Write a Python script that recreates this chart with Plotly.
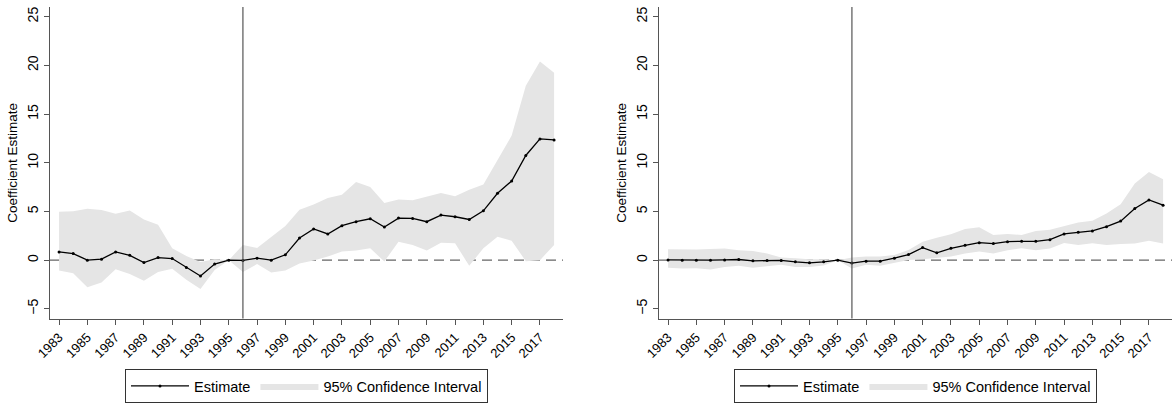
import plotly.graph_objects as go

years = list(range(1983, 2019))

# Left panel
est_left = [0.85, 0.68, 0.0, 0.1, 0.85, 0.5, -0.24, 0.27, 0.17, -0.75, -1.63, -0.4, 0.0,
            -0.03, 0.2, 0.0, 0.55, 2.28, 3.2, 2.69, 3.54, 3.95, 4.25, 3.4, 4.32, 4.29,
            3.95, 4.63, 4.46, 4.18, 5.07, 6.87, 8.13, 10.75, 12.45, 12.35]
hi_left = [4.97, 5.03, 5.27, 5.14, 4.76, 5.1, 4.18, 3.64, 1.22, 0.44, -0.2, 0.1, 0.0,
           1.56, 1.26, 2.38, 3.5, 5.17, 5.71, 6.39, 6.73, 8.03, 7.52, 5.88, 6.22, 6.16,
           6.56, 6.9, 6.56, 7.24, 7.76, 10.24, 12.79, 17.9, 20.4, 19.25]
lo_left = [-1.05, -1.33, -2.79, -2.28, -0.92, -1.43, -2.1, -1.22, -0.88, -2.0, -2.96, -1.0, 0.0,
           -1.22, -0.4, -1.26, -1.05, -0.33, -0.03, 0.37, 0.88, 0.99, 1.22, -0.14, 1.9, 1.56,
           0.99, 1.8, 1.73, -0.58, 1.22, 2.41, 2.0, -0.1, 0.0, 1.56]

# Right panel
est_right = [0.03, 0.0, 0.0, 0.0, 0.03, 0.07, -0.07, -0.03, -0.03, -0.17, -0.27, -0.17, 0.0,
             -0.3, -0.1, -0.1, 0.2, 0.58, 1.29, 0.75, 1.22, 1.53, 1.8, 1.7, 1.9, 1.94,
             1.94, 2.1, 2.69, 2.86, 3.0, 3.44, 4.01, 5.3, 6.19, 5.65]
hi_right = [1.12, 1.09, 1.09, 1.16, 1.19, 1.02, 0.95, 0.68, 0.27, 0.2, 0.1, 0.1, 0.0,
            0.27, 0.37, 0.37, 0.54, 1.05, 1.9, 2.31, 2.65, 3.2, 3.37, 2.59, 2.69, 2.59,
            3.0, 3.13, 3.54, 3.88, 4.05, 4.8, 5.75, 7.86, 9.05, 8.3]
lo_right = [-0.78, -0.85, -0.82, -0.95, -0.71, -0.58, -0.78, -0.61, -0.48, -0.71, -0.71, -0.54, 0.0,
            -0.85, -0.48, -0.58, -0.3, 0.03, 0.1, 0.2, 0.37, 0.68, 0.88, 0.68, 1.02, 1.22,
            1.02, 1.19, 1.77, 1.56, 1.73, 1.56, 1.67, 1.7, 2.0, 1.7]

tick_years = list(range(1983, 2018, 2))
y_ticks = [-5, 0, 5, 10, 15, 20, 25]
event_year = 1996

FONT = "Liberation Sans, Arial, sans-serif"
FILL = "#e5e5e5"
AXIS = "#555555"

fig = go.Figure()

panels = [
    (est_left, lo_left, hi_left, "x", "y", "legend"),
    (est_right, lo_right, hi_right, "x2", "y2", "legend2"),
]

for est, lo, hi, xa, ya, lg in panels:
    fig.add_trace(go.Scatter(x=years, y=lo, mode="lines", line=dict(width=0, color=FILL),
                             showlegend=False, hoverinfo="skip", xaxis=xa, yaxis=ya))
    fig.add_trace(go.Scatter(x=years, y=hi, mode="lines", line=dict(width=0, color=FILL),
                             fill="tonexty", fillcolor=FILL, name="95% Confidence Interval",
                             legend=lg, legendrank=2, xaxis=xa, yaxis=ya))
    fig.add_trace(go.Scatter(x=years, y=est, mode="lines+markers",
                             line=dict(color="black", width=1.3),
                             marker=dict(color="black", size=3),
                             name="Estimate", legend=lg, legendrank=1, xaxis=xa, yaxis=ya))
    # dashed zero line under the band
    fig.add_shape(type="line", xref=f"{xa} domain", yref=ya, x0=0, x1=1, y0=0, y1=0,
                  line=dict(color="#666666", width=1.2, dash="10px,6px"), layer="below")
    # vertical event line
    fig.add_shape(type="line", xref=xa, yref=f"{ya} domain", x0=event_year, x1=event_year,
                  y0=0, y1=1, line=dict(color=AXIS, width=1.2), layer="above")

W, H = 1172, 403
xdom1 = [50 / W, 563 / W]
xdom2 = [659 / W, 1172 / W]
ydom = [(H - 321) / H, (H - 7) / H]

common_x = dict(range=[1982.36, 2018.63], tickmode="array", tickvals=tick_years,
                ticktext=[str(t) for t in tick_years], tickangle=-45, ticks="outside",
                ticklen=5, tickcolor=AXIS, showline=True, linecolor=AXIS, linewidth=1.2,
                showgrid=False, zeroline=False, tickfont=dict(size=13, color="black"),
                automargin=False)
common_y = dict(range=[-6, 26], tickmode="array", tickvals=y_ticks,
                ticktext=["\u22125" if v < 0 else str(v) for v in y_ticks],
                tickangle=-90, ticks="outside", ticklen=5, tickcolor=AXIS,
                showline=True, linecolor=AXIS, linewidth=1.2, showgrid=False, zeroline=False,
                tickfont=dict(size=14, color="black"),
                title=dict(text="Coefficient Estimate", font=dict(size=13.5, color="black"), standoff=4),
                automargin=False)

legend_common = dict(orientation="h", yanchor="top", y=(H - 372) / H, xanchor="center",
                     bordercolor="#333333", borderwidth=1, bgcolor="white",
                     font=dict(size=14.5, color="black", family=FONT), itemwidth=58,
                     traceorder="normal")

fig.update_layout(
    width=W, height=H,
    margin=dict(l=0, r=0, t=0, b=0),
    paper_bgcolor="white", plot_bgcolor="white",
    font=dict(family=FONT, color="black"),
    xaxis=dict(domain=xdom1, anchor="y", **common_x),
    yaxis=dict(domain=ydom, anchor="x", **common_y),
    xaxis2=dict(domain=xdom2, anchor="y2", **common_x),
    yaxis2=dict(domain=ydom, anchor="x2", **common_y),
    legend=dict(x=(xdom1[0] + xdom1[1]) / 2, **legend_common),
    legend2=dict(x=(xdom2[0] + xdom2[1]) / 2, **legend_common),
    showlegend=True,
)

fig.write_html("out.html", config={"displayModeBar": False},
               post_script="document.body.style.margin='0';document.body.style.overflow='hidden';")
